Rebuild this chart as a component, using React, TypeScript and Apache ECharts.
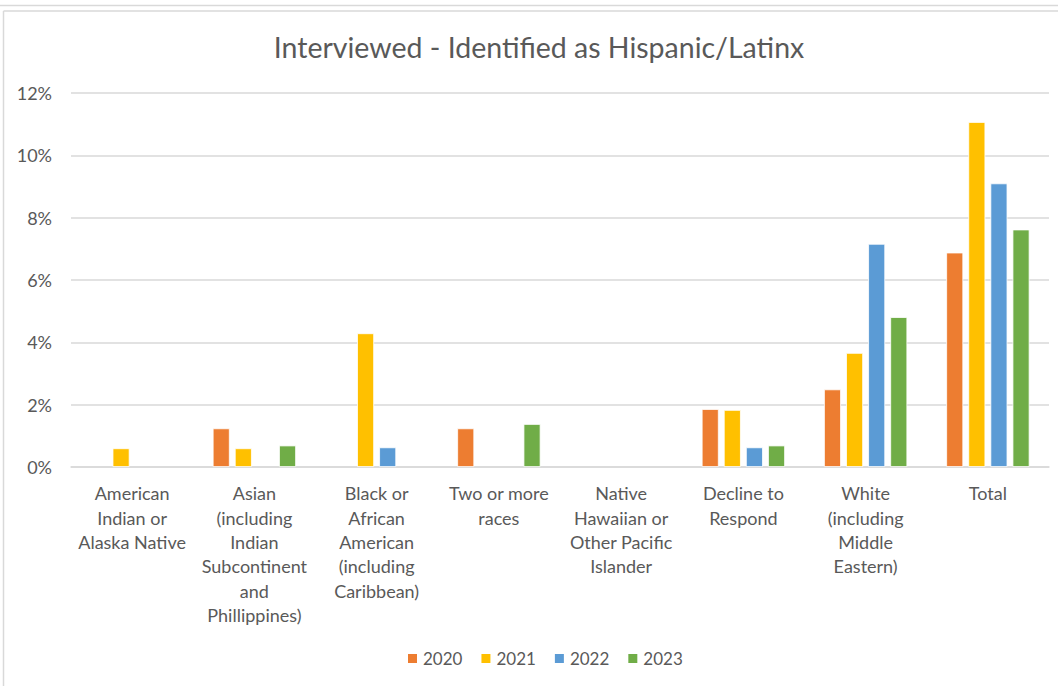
import React, { useEffect, useRef } from "react";
import * as echarts from "echarts";

const categories = [
  "American\nIndian or\nAlaska Native",
  "Asian\n(including\nIndian\nSubcontinent\nand\nPhillippines)",
  "Black or\nAfrican\nAmerican\n(including\nCaribbean)",
  "Two or more\nraces",
  "Native\nHawaiian or\nOther Pacific\nIslander",
  "Decline to\nRespond",
  "White\n(including\nMiddle\nEastern)",
  "Total",
];

const years = ["2020", "2021", "2022", "2023"];

const values2020 = [null, 1.24, null, 1.24, null, 1.86, 2.49, 6.88];
const values2021 = [0.6, 0.6, 4.29, null, null, 1.83, 3.66, 11.07];
const values2022 = [null, null, 0.63, null, null, 0.63, 7.16, 9.1];
const values2023 = [null, 0.69, null, 1.38, null, 0.69, 4.81, 7.62];

const yTicks = { min: 0, max: 12, interval: 2 };

const colors = ["#ED7D31", "#FFC000", "#5B9BD5", "#70AD47"];

const FONT = "Lato";
const TXT = "#595959";

export default function App() {
  const ref = useRef<HTMLDivElement>(null);
  useEffect(() => {
    if (!ref.current) return;
    const chart = echarts.init(ref.current, undefined, { renderer: "svg" });
    const seriesData = [values2020, values2021, values2022, values2023];
    chart.setOption({
      animation: false,
      color: colors,
      textStyle: { fontFamily: FONT, color: TXT },
      graphic: [
        { type: "line", shape: { x1: 0, y1: 5.5, x2: 1058, y2: 5.5 }, style: { stroke: "#d9d9d9", lineWidth: 1.5 }, silent: true },
        { type: "line", shape: { x1: 3.5, y1: 11, x2: 1058, y2: 11 }, style: { stroke: "#d9d9d9", lineWidth: 1.5 }, silent: true },
        { type: "line", shape: { x1: 3.5, y1: 11, x2: 3.5, y2: 686 }, style: { stroke: "#d9d9d9", lineWidth: 1.5 }, silent: true },
        {
          type: "text",
          x: 539,
          y: 47,
          style: {
            text: "Interviewed - Identified as Hispanic/Latinx",
            fontFamily: FONT,
            fontSize: 28.5,
            fill: TXT,
            align: "center",
            verticalAlign: "middle",
          },
          silent: true,
        },
      ],
      legend: {
        data: years,
        left: 406,
        top: 650,
        padding: 0,
        itemWidth: 11,
        itemHeight: 11,
        itemGap: 17,
        icon: "rect",
        textStyle: { fontFamily: FONT, fontSize: 17, color: TXT },
      },
      grid: { left: 71, right: 9, top: 93, bottom: 219, containLabel: false },
      xAxis: {
        type: "category",
        data: categories,
        axisLine: { lineStyle: { color: "#d9d9d9", width: 1.5 } },
        axisTick: { show: false },
        axisLabel: {
          interval: 0,
          margin: 14,
          fontFamily: FONT,
          fontSize: 18,
          lineHeight: 24.4,
          color: TXT,
          align: "center",
          verticalAlign: "top",
        },
      },
      yAxis: {
        type: "value",
        min: yTicks.min,
        max: yTicks.max,
        interval: yTicks.interval,
        axisLine: { show: false },
        axisTick: { show: false },
        splitLine: { lineStyle: { color: "#d9d9d9", width: 1.5 } },
        axisLabel: {
          formatter: "{value}%",
          margin: 19,
          fontFamily: FONT,
          fontSize: 18,
          color: TXT,
        },
      },
      series: years.map((y, i) => ({
        name: y,
        type: "bar",
        data: seriesData[i],
        barWidth: 17,
        barGap: "30%",
        itemStyle: { color: colors[i], borderColor: "#ffffff", borderWidth: 0.8 },
      })),
    });
    return () => chart.dispose();
  }, []);
  return (
    <div
      ref={ref}
      style={{ position: "fixed", left: 0, top: 0, width: 1058, height: 686, background: "#fff" }}
    />
  );
}
